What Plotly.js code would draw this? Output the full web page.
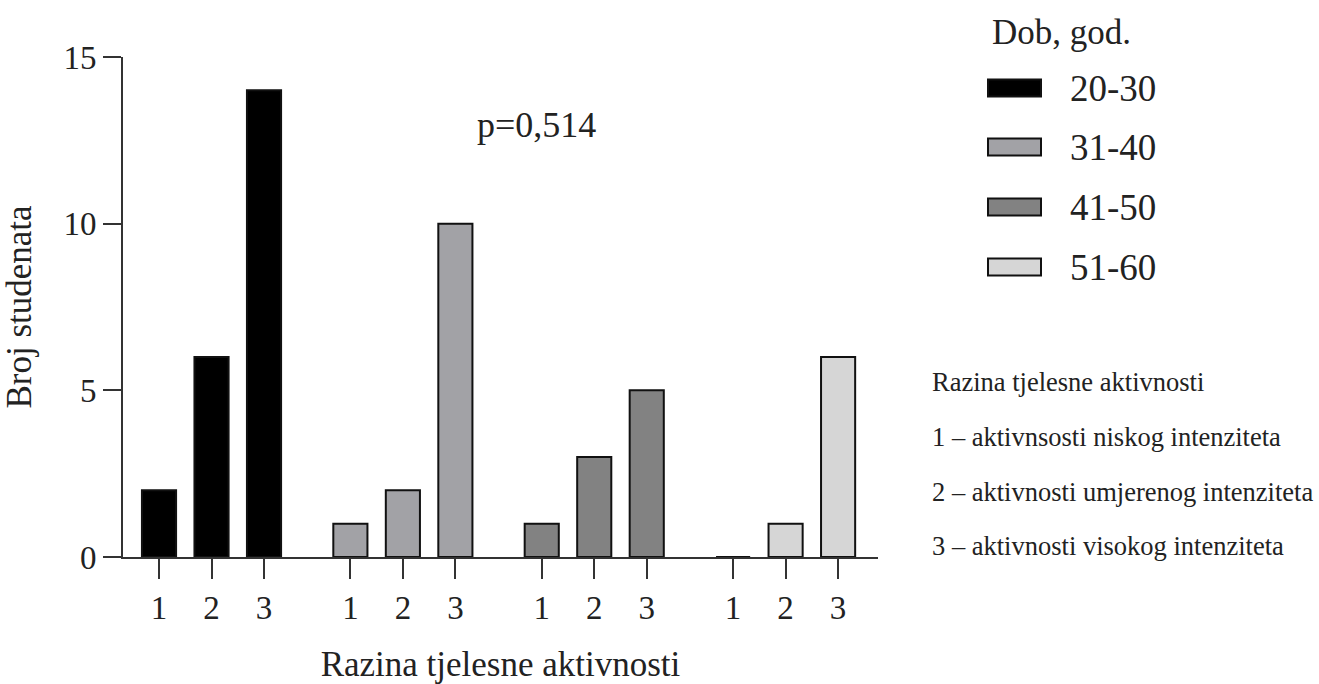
<!DOCTYPE html>
<html>
<head>
<meta charset="utf-8">
<script src="https://cdn.plot.ly/plotly-3.0.1.min.js"></script>
<style>html,body{margin:0;padding:0;background:#fff;}#chart{width:1319px;height:684px;}</style>
</head>
<body>
<div id="chart"></div>
<script>
// ---- data ----
const ageGroups = ['20-30', '31-40', '41-50', '51-60'];
const levels = ['1', '2', '3'];
const values2030 = [2, 6, 14];
const values3140 = [1, 2, 10];
const values4150 = [1, 3, 5];
const values5160 = [0, 1, 6];
const seriesColors = ['#000000', '#a2a2a6', '#828282', '#d6d6d6'];
const legendTitle = 'Dob, god.';
const pText = 'p=0,514';
const noteLines = [
  'Razina tjelesne aktivnosti',
  '1 – aktivnsosti niskog intenziteta',
  '2 – aktivnosti umjerenog intenziteta',
  '3 – aktivnosti visokog intenziteta'
];
const yTitle = 'Broj studenata';
const xTitle = 'Razina tjelesne aktivnosti';

// ---- layout helpers ----
const allValues = [values2030, values3140, values4150, values5160];
const groupStep = 3.645;
const FONT = 'Liberation Serif, Times New Roman, serif';
const TXT = '#222';

const traces = [];
const tickvals = [], ticktext = [];
allValues.forEach((vals, g) => {
  const xs = levels.map((_, k) => g * groupStep + k);
  xs.forEach((x, k) => { tickvals.push(x); ticktext.push(levels[k]); });
  traces.push({
    type: 'bar', name: ageGroups[g], x: xs, y: vals, width: 0.65,
    marker: {color: seriesColors[g], line: {color: '#111', width: 2}},
    showlegend: false, hoverinfo: 'x+y'
  });
});

// plot area pixels: x 123..878, y 57..557
const L = 123, R = 878, T = 57, B = 557;
const px = v => (v - L) / (R - L);
const py = v => (B - v) / (B - T);

const shapes = [];
const annotations = [];
// extend x axis line left of y axis
shapes.push({type: 'line', xref: 'paper', yref: 'paper', x0: px(105), x1: 0, y0: 0, y1: 0,
  line: {color: '#333', width: 2}});

// legend
annotations.push({xref: 'paper', yref: 'paper', x: px(990), y: py(33), xanchor: 'left', yanchor: 'middle',
  text: legendTitle, showarrow: false, font: {family: FONT, size: 35, color: TXT}});
const legY = [88, 147, 207, 267];
ageGroups.forEach((name, g) => {
  shapes.push({type: 'rect', xref: 'paper', yref: 'paper', x0: px(988), x1: px(1041),
    y0: py(legY[g] + 8.5), y1: py(legY[g] - 8.5), fillcolor: seriesColors[g],
    line: {color: '#111', width: 2}});
  annotations.push({xref: 'paper', yref: 'paper', x: px(1068), y: py(legY[g]), xanchor: 'left', yanchor: 'middle',
    text: name, showarrow: false, font: {family: FONT, size: 37, color: TXT}});
});
// notes
const noteY = [382, 437, 492, 546];
noteLines.forEach((t, i) => {
  annotations.push({xref: 'paper', yref: 'paper', x: px(930), y: py(noteY[i]), xanchor: 'left', yanchor: 'middle',
    text: t, showarrow: false, font: {family: FONT, size: 26.5, color: TXT}});
});
// p-value
annotations.push({xref: 'paper', yref: 'paper', x: px(536), y: py(125), xanchor: 'center', yanchor: 'middle',
  text: pText, showarrow: false, font: {family: FONT, size: 36, color: TXT}});

const layout = {
  width: 1319, height: 684,
  margin: {l: L, r: 1319 - R, t: T, b: 684 - B},
  paper_bgcolor: '#fff', plot_bgcolor: '#fff',
  barmode: 'overlay',
  font: {family: FONT, color: TXT},
  xaxis: {
    range: [-0.686, 13.695], tickvals: tickvals, ticktext: ticktext,
    showgrid: false, zeroline: false, showline: true, linecolor: '#333', linewidth: 2,
    ticks: 'outside', ticklen: 20, tickwidth: 2, tickcolor: '#333',
    tickfont: {family: FONT, size: 33, color: TXT},
    title: {text: xTitle, font: {family: FONT, size: 35, color: TXT}, standoff: 30}
  },
  yaxis: {
    range: [0, 15], tickvals: [0, 5, 10, 15],
    showgrid: false, zeroline: false, showline: true, linecolor: '#333', linewidth: 2,
    ticks: 'outside', ticklen: 18, tickwidth: 2, tickcolor: '#333',
    tickfont: {family: FONT, size: 33, color: TXT},
    title: {text: yTitle, font: {family: FONT, size: 35, color: TXT}, standoff: 22}
  },
  shapes: shapes,
  annotations: annotations,
  showlegend: false
};

Plotly.newPlot('chart', traces, layout, {displayModeBar: false, staticPlot: true});
</script>
</body>
</html>
